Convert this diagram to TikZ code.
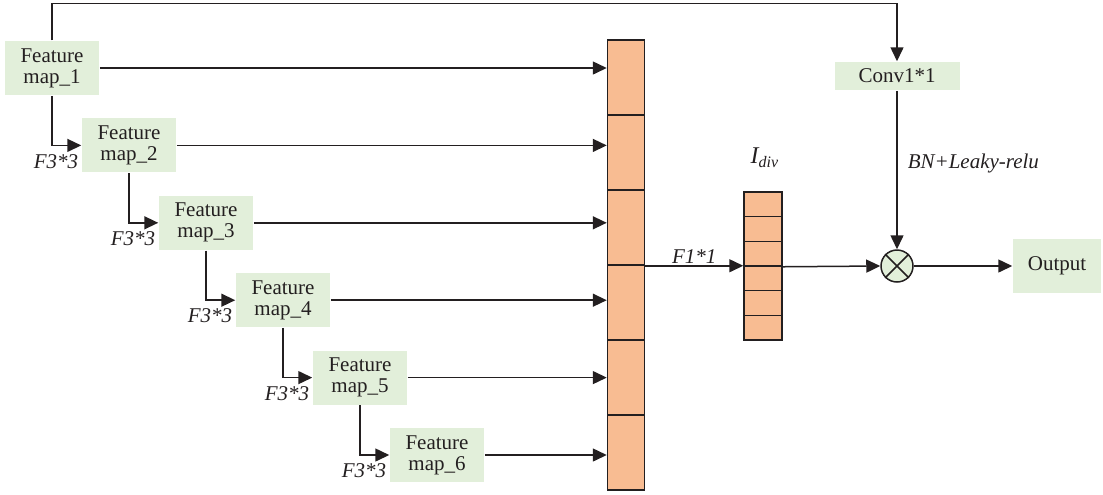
\documentclass[tikz,border=0pt]{standalone}
\usepackage{fontspec}
\setmainfont{Liberation Serif}
\usetikzlibrary{arrows.meta,positioning}
\definecolor{boxgreen}{RGB}{226,239,218}
\definecolor{cellorange}{RGB}{248,188,146}
\definecolor{linegray}{RGB}{35,31,32}
\tikzset{
	fmap/.style={fill=boxgreen,align=center,minimum width=47pt,minimum height=27pt,inner sep=1pt,font=\fontsize{10.5}{10.5}\selectfont},
	cell/.style={draw,fill=cellorange,minimum width=18.5pt,minimum height=37.5pt,inner sep=0pt},
	smallcell/.style={draw,fill=cellorange,minimum width=19pt,minimum height=12.33pt,inner sep=0pt},
	lbl/.style={font=\fontsize{10.5}{10.5}\selectfont\itshape,inner sep=1pt},
	arr/.style={-{Triangle[length=7pt,width=6.5pt]}}
}

\begin{document}
\begin{tikzpicture}[x=0.5pt,y=-0.5pt,line width=0.75pt,color=linegray]
			\useasboundingbox (0,0) rectangle (1103,494);
			\foreach \i in {1,...,6}
				\node[fmap] (fm\i) at ({52+77*(\i-1)},{68+77.4*(\i-1)}) {Feature\\map\_\i};
			\foreach \i in {1,...,6}
				\node[cell] (c\i) at (626,{2.5+75*\i}) {};
			\foreach \i in {1,...,6}
				\node[smallcell] (s\i) at (763,{179.67+24.67*\i}) {};
			\node[fmap,minimum width=62.5pt,minimum height=14pt] (conv) at (897,76) {Conv1*1};
			\node[circle,draw,fill=boxgreen,minimum size=16pt,inner sep=0pt] (mul) at (897,266) {};
			\node[fmap,minimum width=44pt] (out) at (1057,266) {Output};
			\node[lbl,font=\fontsize{12}{12}\selectfont\itshape] (idiv) at (765,158) {I\textsubscript{div}};
			
			\draw (mul.north east) -- (mul.south west) (mul.north west) -- (mul.south east);
			\foreach \i in {1,...,6}
				\draw[arr] (fm\i.east) -- (fm\i.east -| c1.west);
			\foreach \i [count=\j from 2] in {1,...,5}
				\draw[arr] (fm\i.south) |- node[lbl,below,pos=0.5,xshift=2pt,yshift=-3pt] {F3*3} (fm\j.west);
			\draw[arr] (fm1.north) -- ++(0,-37) -| (conv.north);
			\draw[arr] (c3.south east) -- node[lbl,above] {F1*1} (c3.south east -| s1.west);
			\draw[arr] (s3.south east) -- (mul.west);
			\draw[arr] (conv.south) -- node[lbl,right,pos=0.46,xshift=4pt] {BN+Leaky-relu} (mul.north);
			\draw[arr] (mul.east) -- (out.west);
		\end{tikzpicture}
\end{document}
